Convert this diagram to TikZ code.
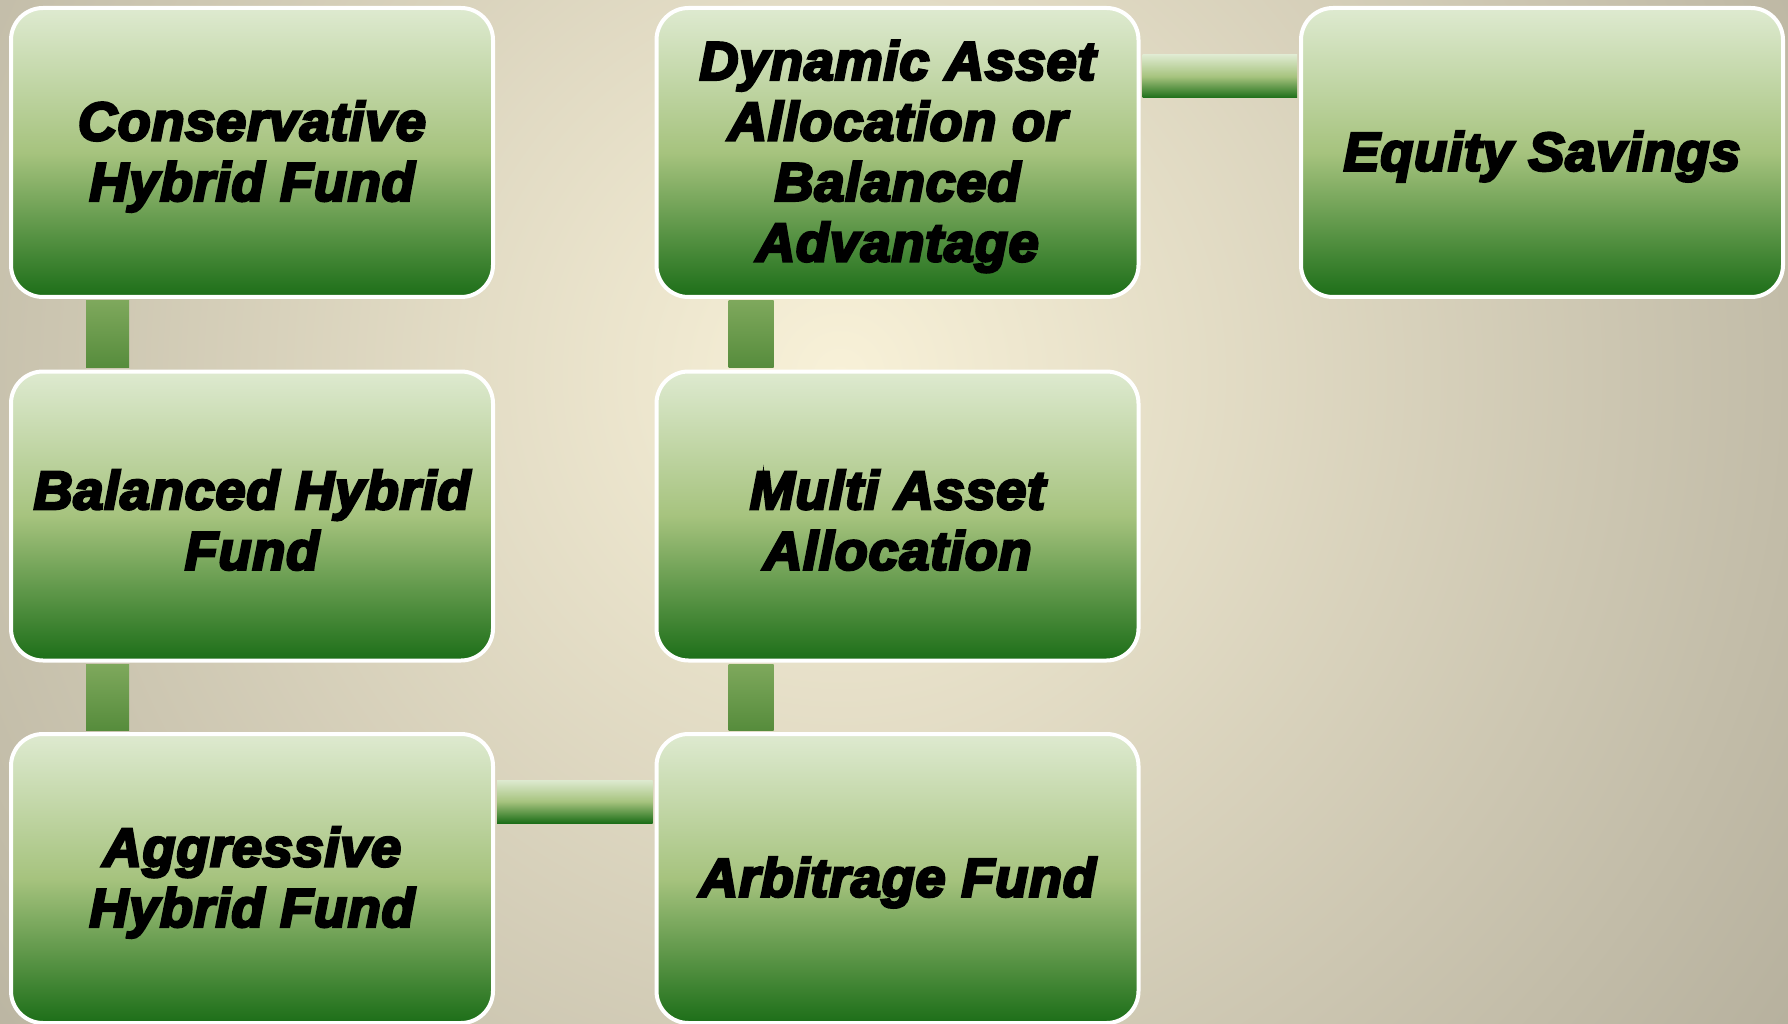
\documentclass[tikz,border=0pt]{standalone}
\usepackage{fontspec}
\newfontfamily\boxfont{Liberation Sans}[UprightFont=* Bold Italic, FakeBold=5, LetterSpace=1.5]
\usetikzlibrary{calc}
\definecolor{bgin}{RGB}{248,241,216}
\definecolor{bgout}{RGB}{140,135,120}
\definecolor{gtop}{RGB}{222,234,208}
\definecolor{gmid}{RGB}{166,195,126}
\definecolor{gbot}{RGB}{28,110,24}
\definecolor{vtop}{RGB}{126,168,92}
\definecolor{vbot}{RGB}{86,140,60}
\tikzset{
  fundbox/.style={rectangle, rounded corners=32pt, draw=white, line width=4pt,
    minimum width=482pt, minimum height=289pt, inner sep=0pt,
    top color=gtop, bottom color=gbot, middle color=gmid},
  fundtext/.style={align=center, text=black, inner sep=0pt,
    font=\boxfont\fontsize{54}{60.5}\selectfont},
  vconn/.style={top color=vtop, bottom color=vbot},
  hconn/.style={top color=gtop, bottom color=gbot, middle color=gmid},
}
\newcommand\fundnode[3]{%
  \node[fundbox] (#1) at (#2) {};
  \node[fundtext] (#1-t) at ($(#1.center)+(0,4)$) {#3};}
\begin{document}
\begin{tikzpicture}[x=1pt,y=-1pt]
\useasboundingbox (0,0) rectangle (1788,1024);
\begin{scope}
\clip (0,0) rectangle (1788,1024);
\shade[inner color=bgin, outer color=bgout] (840,375) circle (1900);
\end{scope}
% boxes
\fundnode{cons}{252,152.5}{Conservative\\Hybrid Fund}
\fundnode{bal}{252,516}{Balanced Hybrid\\Fund}
\fundnode{aggr}{252,878.5}{Aggressive\\Hybrid Fund}
\fundnode{dyn}{897.5,152.5}{Dynamic Asset\\Allocation or\\Balanced\\Advantage}
\fundnode{multi}{897.5,516}{Multi Asset\\Allocation}
\fundnode{arb}{897.5,878.5}{Arbitrage Fund}
\fundnode{eq}{1542,152.5}{Equity Savings}
% connectors
\shade[vconn] ($(cons.south west)+(77,2)$) rectangle ($(bal.north west)+(120,-2)$);
\shade[vconn] ($(bal.south west)+(77,2)$) rectangle ($(aggr.north west)+(120,-2)$);
\shade[vconn] ($(dyn.south west)+(74,2)$) rectangle ($(multi.north west)+(119,-2)$);
\shade[vconn] ($(multi.south west)+(74,2)$) rectangle ($(arb.north west)+(119,-2)$);
\shade[hconn] ($(aggr.north east)+(2,48)$) rectangle ($(arb.north west)+(-2,91)$);
\shade[hconn] ($(dyn.north east)+(2,49)$) rectangle ($(eq.north west)+(-2,92)$);
\end{tikzpicture}
\end{document}
